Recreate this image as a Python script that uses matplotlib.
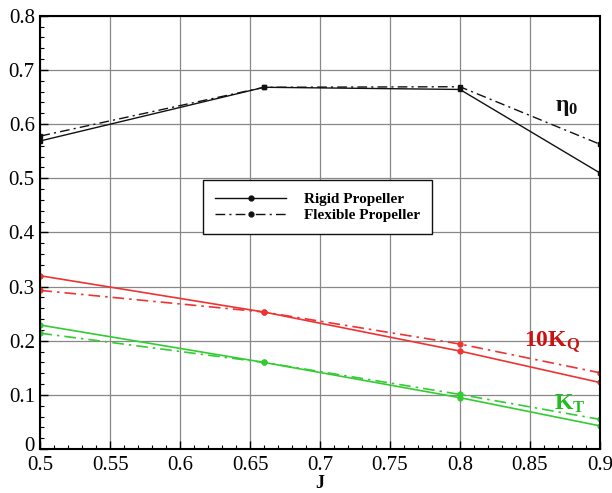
import matplotlib
matplotlib.use("Agg")
import matplotlib.pyplot as plt
import matplotlib.transforms as mtransforms
from matplotlib.ticker import MultipleLocator, FuncFormatter
from matplotlib.lines import Line2D

J = [0.5, 0.66, 0.8, 0.9]
eta_rigid = [0.569, 0.668, 0.664, 0.510]
eta_flex = [0.578, 0.668, 0.669, 0.563]
kq10_rigid = [0.320, 0.253, 0.181, 0.123]
kq10_flex = [0.293, 0.253, 0.194, 0.141]
kt_rigid = [0.229, 0.160, 0.095, 0.043]
kt_flex = [0.214, 0.160, 0.101, 0.055]

x_ticks = [0.5, 0.55, 0.6, 0.65, 0.7, 0.75, 0.8, 0.85, 0.9]
y_ticks = [0, 0.1, 0.2, 0.3, 0.4, 0.5, 0.6, 0.7, 0.8]

plt.rcParams['font.family'] = ['Liberation Serif', 'DejaVu Serif']
plt.rcParams['mathtext.fontset'] = 'custom'
plt.rcParams['mathtext.rm'] = 'Liberation Serif'
plt.rcParams['mathtext.it'] = 'Liberation Serif:italic'
plt.rcParams['mathtext.bf'] = 'Liberation Serif:bold'

fig = plt.figure(figsize=(6.12, 4.93), dpi=100)
ax = fig.add_axes([0.066, 0.089, 0.914, 0.879])

dashdot = (0, (7, 3, 1.5, 3))
black = '#111111'
red = '#ee3333'
green = '#33cc33'

ax.plot(J, eta_rigid, color=black, lw=1.0, marker='s', ms=3.5)
ax.plot(J, eta_flex, color=black, lw=1.0, ls=dashdot, marker='s', ms=3.5)
ax.plot(J, kq10_rigid, color=red, lw=1.2, marker='o', ms=3.5)
ax.plot(J, kq10_flex, color=red, lw=1.2, ls=dashdot, marker='o', ms=3.5)
ax.plot(J, kt_rigid, color=green, lw=1.2, marker='o', ms=3.5)
ax.plot(J, kt_flex, color=green, lw=1.2, ls=dashdot, marker='o', ms=3.5)

ax.set_xlim(0.5, 0.9)
ax.set_ylim(0, 0.8)
ax.set_xticks(x_ticks)
ax.set_yticks(y_ticks)
ax.xaxis.set_minor_locator(MultipleLocator(0.01))
ax.yaxis.set_minor_locator(MultipleLocator(0.02))
fmt = FuncFormatter(lambda v, p: f"{v:g}")
ax.xaxis.set_major_formatter(fmt)
ax.yaxis.set_major_formatter(fmt)
ax.tick_params(which='major', direction='in', length=6, width=1, labelsize=15)
ax.tick_params(axis='x', which='major', pad=5)
ax.tick_params(axis='y', which='major', pad=4)
ax.tick_params(which='minor', direction='in', length=3, width=0.8)
ax.grid(True, which='major', color='#888888', lw=0.9)
for s in ax.spines.values():
    s.set_linewidth(1.5)

ax.set_xlabel('J', fontsize=13, fontweight='bold', labelpad=0)

# nudge the "0" y tick label up a little so it does not collide with "0.5"
fig.canvas.draw()
lbl0 = ax.get_yticklabels()[0]
lbl0.set_transform(lbl0.get_transform() + mtransforms.ScaledTranslation(0, 4 / 72, fig.dpi_scale_trans))

ax.text(0.868, 0.625, r'$\mathbf{\eta_0}$', fontsize=17, color=black)
ax.text(0.846, 0.188, r'$\mathbf{10K_Q}$', fontsize=17, color='#cc1111')
ax.text(0.867, 0.072, r'$\mathbf{K_T}$', fontsize=17, color='#22bb22')

handles = [Line2D([], [], color=black, lw=1.0, marker='o', ms=3.5),
           Line2D([], [], color=black, lw=1.0, ls=dashdot, marker='o', ms=3.5)]
leg = ax.legend(handles, ['Rigid Propeller', 'Flexible Propeller'],
                loc='upper left', bbox_to_anchor=(0.291, 0.621),
                borderaxespad=0,
                fancybox=False, framealpha=1, edgecolor=black,
                prop={'weight': 'bold', 'size': 11}, handlelength=4.6,
                borderpad=0.8, labelspacing=0.15, handletextpad=1.2)
leg.get_frame().set_linewidth(1.0)

fig.savefig('out.png', dpi=100)
